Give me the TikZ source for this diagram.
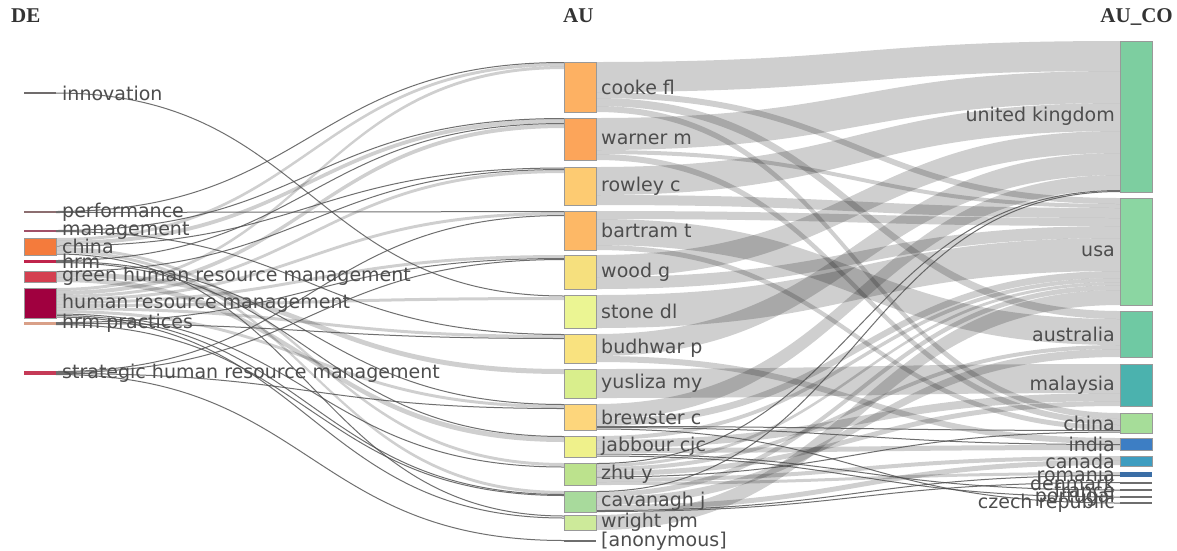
\documentclass[tikz,border=0pt]{standalone}
\usepackage{fontspec}
\setmainfont{DejaVu Sans}
\newfontfamily\headfont{Liberation Serif}
\usetikzlibrary{calc,positioning,backgrounds}

\definecolor{labelgray}{RGB}{77,77,77}
% DE colours
\definecolor{cInno}{RGB}{112,108,108}
\definecolor{cPerf}{RGB}{140,110,112}
\definecolor{cMgmt}{RGB}{160,80,104}
\definecolor{cChina}{RGB}{244,123,60}
\definecolor{cHrm}{RGB}{192,36,75}
\definecolor{cGreen}{RGB}{212,63,80}
\definecolor{cHrmFull}{RGB}{160,0,63}
\definecolor{cHrmPrac}{RGB}{217,160,136}
\definecolor{cStrat}{RGB}{197,58,87}
% AU colours
\definecolor{cCooke}{RGB}{253,177,99}
\definecolor{cWarner}{RGB}{252,165,90}
\definecolor{cRowley}{RGB}{253,203,114}
\definecolor{cBartram}{RGB}{253,184,102}
\definecolor{cWood}{RGB}{246,224,126}
\definecolor{cStone}{RGB}{235,245,147}
\definecolor{cBudhwar}{RGB}{249,226,127}
\definecolor{cYusliza}{RGB}{217,238,140}
\definecolor{cBrewster}{RGB}{253,214,124}
\definecolor{cJabbour}{RGB}{239,241,139}
\definecolor{cZhu}{RGB}{188,226,141}
\definecolor{cCavanagh}{RGB}{168,218,156}
\definecolor{cWright}{RGB}{205,234,154}
% AU_CO colours
\definecolor{cUK}{RGB}{125,206,160}
\definecolor{cUSA}{RGB}{139,214,162}
\definecolor{cAus}{RGB}{111,201,163}
\definecolor{cMys}{RGB}{75,178,174}
\definecolor{cChn}{RGB}{166,221,153}
\definecolor{cInd}{RGB}{61,126,196}
\definecolor{cCan}{RGB}{62,157,192}
\definecolor{cRou}{RGB}{59,110,166}
\definecolor{cSmall}{RGB}{110,110,110}

\tikzstyle{bar} = [draw=black!40, line width=0.8pt, inner sep=0pt, outer sep=0pt,
  minimum width=32pt, anchor=north west]
\tikzstyle{thinbar} = [inner sep=0pt, outer sep=0pt, minimum width=32pt, anchor=north west]
\tikzstyle{lbl} = [font=\fontsize{19}{20}\selectfont, text=labelgray, inner sep=0pt]
\tikzstyle{colhead} = [font=\headfont\bfseries\fontsize{21}{24}\selectfont, text=black!80, inner sep=0pt]
\tikzstyle{flowband} = [fill=black, fill opacity=0.19]
\tikzstyle{flowline} = [draw=black!70, draw opacity=0.8, line width=1pt]

% band from node #1 (offset #2 below its top) to node #3 (offset #4), #5 thick
\newcommand{\flowband}[5]{%
  \fill[flowband] let \p1=($(#1.north east)+(0,#2)$), \p2=($(#3.north west)+(0,#4)$),
    \n1={0.5*(\x1+\x2)}, \n2={#5} in
    (\p1) .. controls ({\n1*1pt},\y1) and ({\n1*1pt},\y2) .. (\p2)
    -- (\x2,{\y2-\n2*1pt}) .. controls ({\n1*1pt},{\y2-\n2*1pt}) and ({\n1*1pt},{\y1-\n2*1pt}) .. (\x1,{\y1-\n2*1pt}) -- cycle;}
% thin link, drawn as a single line
\newcommand{\flowline}[5]{%
  \draw[flowline] let \p1=($(#1.north east)+(0,#2+0.5*#5)$), \p2=($(#3.north west)+(0,#4+0.5*#5)$),
    \n1={0.5*(\x1+\x2)} in
    (\p1) .. controls ({\n1*1pt},\y1) and ({\n1*1pt},\y2) .. (\p2);}

\begin{document}
\begin{tikzpicture}[x=1pt,y=-1pt]
\useasboundingbox (0,0) rectangle (1177,550);

% column heads
\node[colhead, anchor=base west] (h-de) at (11,22) {DE};
\node[colhead, anchor=base west] (h-au) at (563,22) {AU};
\node[colhead, anchor=base east] (h-co) at (1173,22) {AU\_CO};

% DE
\foreach \n/\y/\h/\c in {innovation/92/2/cInno, performance/211/2/cPerf, management/230/2/cMgmt,
  hrm/260/3/cHrm, hrmprac/322/3/cHrmPrac, strategic/371/4/cStrat}
  \node[thinbar, fill=\c, minimum height=\h pt] (\n) at (24,\y) {};
\foreach \n/\y/\h/\c in {china/238/17/cChina, green/271/11/cGreen, hrmfull/288/30/cHrmFull}
  \node[bar, fill=\c, minimum height=\h pt] (\n) at (24,\y) {};

% AU
\foreach \n/\y/\h/\c in {cooke/62/50/cCooke, warner/118/42/cWarner, rowley/167/38/cRowley,
  bartram/211/39/cBartram, wood/255/34/cWood, stone/295/33/cStone, budhwar/334/29/cBudhwar,
  yusliza/369/29/cYusliza, brewster/404/26/cBrewster, jabbour/436/21/cJabbour,
  zhu/463/22/cZhu, cavanagh/491/21/cCavanagh, wright/515/15/cWright}
  \node[bar, fill=\c, minimum height=\h pt] (\n) at (564,\y) {};
\node[thinbar, fill=cSmall, minimum height=1.5pt] (anon) at (564,540) {};

% AU_CO
\foreach \n/\y/\h/\c in {uk/41/151/cUK, usa/198/107/cUSA, aus/311/46/cAus, mys/364/42/cMys,
  chn/413/20/cChn, ind/438/12/cInd, can/456/10/cCan}
  \node[bar, fill=\c, minimum height=\h pt] (\n) at (1120,\y) {};
\foreach \n/\y/\h/\c in {rou/472/5/cRou, dnk/482/2/cSmall, fra/489/2/cSmall,
  prt/496/2/cSmall, cze/502/2/cSmall}
  \node[thinbar, fill=\c, minimum height=\h pt] (\n) at (1120,\y) {};

% labels
\foreach \n/\t in {innovation/innovation, performance/performance, management/management,
  china/china, hrm/hrm, green/green human resource management,
  hrmfull/human resource management, hrmprac/hrm practices,
  strategic/strategic human resource management}
  \node[lbl, right=6pt of \n] (\n-l) {\t};
\foreach \n/\t in {cooke/cooke fl, warner/warner m, rowley/rowley c, bartram/bartram t,
  wood/wood g, stone/stone dl, budhwar/budhwar p, yusliza/yusliza my, brewster/brewster c,
  jabbour/jabbour cjc, zhu/zhu y, cavanagh/cavanagh j, wright/wright pm, anon/{[anonymous]}}
  \node[lbl, right=5pt of \n] (\n-l) {\t};
\foreach \n/\t in {uk/united kingdom, usa/usa, aus/australia, mys/malaysia, chn/china,
  ind/india, can/canada, rou/romania, dnk/denmark, fra/france, prt/portugal, cze/czech republic}
  \node[lbl, left=5pt of \n] (\n-l) {\t};

\begin{scope}[on background layer]
\fill[white] (0,0) rectangle (1177,550);
% DE -> AU
\foreach \fr/\fo/\tg/\go/\ww in {china/0/cooke/1/3, china/3/warner/1/4, china/9/zhu/0/3,
  china/12/cavanagh/0/3, green/1/yusliza/0/5, green/6/jabbour/1/5,
  hrmfull/0/cooke/4/3, hrmfull/3/warner/6/4, hrmfull/7/rowley/3/3, hrmfull/10/bartram/1/3,
  hrmfull/13/wood/0/3, hrmfull/16/stone/2/3, hrmfull/19/budhwar/1/3, hrmfull/22/brewster/1/3}
  \flowband{\fr}{\fo}{\tg}{\go}{\ww};
\foreach \fr/\fo/\tg/\go/\ww in {innovation/0/stone/0/2, performance/0/cooke/0/1,
  performance/1/bartram/0/1, management/0/warner/0/1, management/1/budhwar/0/1,
  china/7/rowley/0/2, china/15/wright/0/2, hrm/0/warner/5/1, hrm/1/brewster/0/1,
  hrm/2/jabbour/0/1, green/0/rowley/2/1, hrmfull/25/zhu/3/2, hrmfull/27/cavanagh/3/1,
  hrmfull/28/wright/2/2, hrmprac/0/wood/3/1, hrmprac/1/budhwar/4/1, hrmprac/2/cavanagh/4/1,
  strategic/0/bartram/4/1, strategic/1/wood/4/1, strategic/2/brewster/4/1, strategic/3/anon/0/1}
  \flowline{\fr}{\fo}{\tg}{\go}{\ww};
% AU -> AU_CO
\foreach \fr/\fo/\tg/\go/\ww in {cooke/0/uk/0/30, cooke/30/usa/0/6, cooke/36/aus/0/8,
  cooke/44/chn/0/6, warner/0/uk/30/32, warner/32/usa/6/4, warner/36/chn/6/6,
  rowley/0/uk/62/28, rowley/28/usa/10/10, bartram/0/usa/20/8, bartram/8/aus/8/26,
  bartram/34/chn/12/5, wood/0/uk/90/22, wood/22/usa/28/12, stone/0/usa/40/33,
  budhwar/0/uk/112/22, budhwar/22/ind/0/6, yusliza/0/mys/0/29, brewster/0/uk/134/15,
  brewster/15/usa/73/7, jabbour/0/usa/80/4, jabbour/4/mys/29/8, jabbour/12/ind/7/5,
  zhu/1/usa/84/3, zhu/4/aus/34/4, zhu/8/mys/37/5, zhu/15/can/0/4, zhu/19/rou/0/3,
  cavanagh/1/usa/87/5, cavanagh/6/aus/38/8, cavanagh/14/can/4/5, wright/0/usa/92/15}
  \flowband{\fr}{\fo}{\tg}{\go}{\ww};
\foreach \fr/\fo/\tg/\go/\ww in {brewster/22/chn/17/1, brewster/23/ind/6/1, brewster/24/cze/0/2,
  jabbour/17/fra/0/2, jabbour/19/prt/0/2, zhu/0/uk/149/1, zhu/13/chn/18/2,
  cavanagh/0/uk/150/1, cavanagh/19/rou/3/1, cavanagh/20/dnk/0/1}
  \flowline{\fr}{\fo}{\tg}{\go}{\ww};
\end{scope}
\end{tikzpicture}
\end{document}
